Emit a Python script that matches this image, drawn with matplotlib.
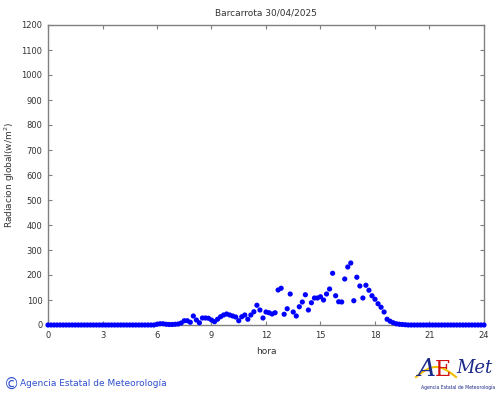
import numpy as np
import matplotlib
matplotlib.use('Agg')
import matplotlib.pyplot as plt

# 10-minute global radiation readings, index 0 = 00:00, 144 = 24:00
title = 'Barcarrota 30/04/2025'
early = [3, 5, 5, 3, 2, 2, 3, 4, 8]            # 06:00 .. 07:20
day = [17, 17, 11, 36, 20, 9, 28, 28, 27, 20, 13, 23, 33, 40, 44, 40, 36, 32,
       17, 33, 40, 23, 40, 53, 79, 60, 28, 52, 49, 44, 49, 140, 147, 43, 65,
       124, 52, 36, 73, 92, 121, 60, 89, 108, 108, 113, 100, 124, 144, 207,
       117, 93, 92, 184, 232, 248, 97, 191, 156, 108, 159, 139, 117, 103, 85,
       71, 52, 23, 15, 9, 5, 3, 2, 1]        # 07:30 .. 19:50
radiacion = [0] * 36 + early + day
radiacion = radiacion + [0] * (145 - len(radiacion))
hora = np.arange(145) / 6.0

xticks = [0, 3, 6, 9, 12, 15, 18, 21, 24]
yticks = list(range(0, 1300, 100))

fig = plt.figure(figsize=(5, 3.95), dpi=100)
ax = fig.add_axes([48/500, 1 - 325/395, 436/500, 300/395])

ax.scatter(hora, radiacion, s=14, color='#0000ff', edgecolors='none', zorder=3, clip_on=False)

ax.set_xlim(0, 24)
ax.set_ylim(0, 1200)
ax.set_xticks(xticks)
ax.set_yticks(yticks)
ax.tick_params(direction='in', length=3, width=0.8, color='#808080',
               labelsize=6, labelcolor='#333333', top=True, right=True, pad=4)
for s in ax.spines.values():
    s.set_color('#808080')
    s.set_linewidth(1)

ax.set_title(title, fontsize=6.5, color='#333333', pad=7)
ax.set_xlabel('hora', fontsize=6.5, color='#333333', labelpad=5)
ax.set_ylabel('Radiacion global(w/m$^2$)', fontsize=6.5, color='#333333', labelpad=3)

# footer
fig.text(4/500, 1 - 384/395, '\u00a9', fontsize=11, color='#2f4fd0', va='center')
fig.text(20/500, 1 - 384/395, 'Agencia Estatal de Meteorología', fontsize=6.5,
         color='#2f4fd0', va='center')

# AEMET logo (approximate)
fig.text(418/500, 1 - 370/395, 'A', fontsize=18, color='#1b2a8a', va='center',
         fontstyle='italic', family='DejaVu Serif')
fig.text(435/500, 1 - 370/395, 'E', fontsize=16, color='#d01010', va='center',
         family='DejaVu Serif')
fig.text(456/500, 1 - 368/395, 'Met', fontsize=13, color='#1b2a8a', va='center',
         fontstyle='italic', family='DejaVu Serif')
t = np.linspace(0, 1, 30)
fig.add_artist(plt.Line2D((416 + 40*t)/500, 1 - (377 - 10*np.sin(np.pi*t))/395,
                          color='#f0c000', lw=1.5))
fig.text(458/500, 1 - 387/395, 'Agencia Estatal de Meteorología', fontsize=3.3,
         color='#1b2a8a', ha='center', va='center')

fig.savefig('out.png', dpi=100)
